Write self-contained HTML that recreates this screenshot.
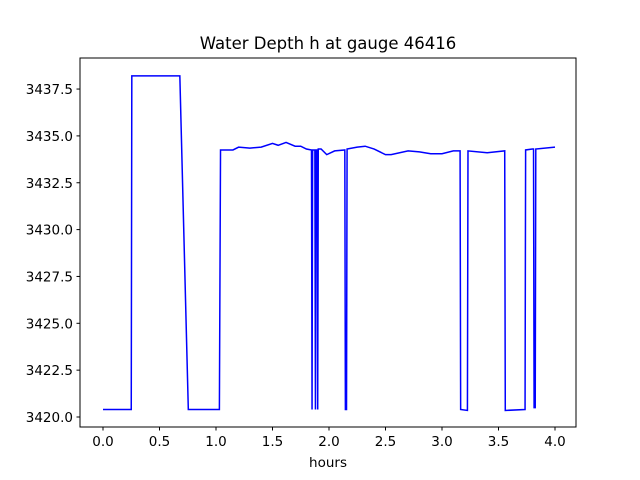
<!DOCTYPE html>
<html><head><meta charset="utf-8"><style>body{margin:0;background:#fff}svg{display:block;font-family:"DejaVu Sans","Liberation Sans",sans-serif}</style></head>
<body>
<svg id="c" width="640" height="480"></svg>
<script>
const times=[0,0.25,0.255,0.68,0.755,1.03,1.04,1.15,1.2,1.3,1.4,1.5,1.55,1.62,1.7,1.75,1.8,1.845,1.85,1.855,1.875,1.88,1.885,1.895,1.9,1.905,1.93,1.98,2.05,2.14,2.145,2.155,2.16,2.25,2.32,2.4,2.5,2.55,2.7,2.8,2.9,3.0,3.1,3.16,3.165,3.225,3.23,3.4,3.555,3.56,3.735,3.74,3.8,3.81,3.815,3.825,3.83,4.0];
const depths=[3420.4,3420.4,3438.2,3438.2,3420.4,3420.4,3434.25,3434.25,3434.4,3434.35,3434.4,3434.6,3434.5,3434.65,3434.45,3434.45,3434.3,3434.25,3420.4,3434.25,3434.25,3420.4,3434.25,3434.25,3420.4,3434.3,3434.3,3434.0,3434.2,3434.25,3420.4,3420.4,3434.3,3434.4,3434.45,3434.3,3434.0,3434.0,3434.2,3434.15,3434.05,3434.05,3434.2,3434.2,3420.4,3420.35,3434.2,3434.1,3434.2,3420.35,3420.4,3434.25,3434.3,3434.3,3420.5,3420.5,3434.3,3434.4];
const xTicks=[0,0.5,1,1.5,2,2.5,3,3.5,4];
const yTicks=[3420,3422.5,3425,3427.5,3430,3432.5,3435,3437.5];
const L=80,R=576,T=58,B=427;
const xs=t=>103+(t)*113;
const ys=h=>417-(h-3420)*18.74;
const svg=document.getElementById('c');const NS='http://www.w3.org/2000/svg';
function mk(tag,at,txt){const e=document.createElementNS(NS,tag);for(const k in at)e.setAttribute(k,at[k]);if(txt!==undefined)e.textContent=txt;svg.appendChild(e);return e;}
const line=mk('polyline',{points:times.map((t,i)=>xs(t)+','+ys(depths[i])).join(' '),fill:'none',stroke:'#0000ff','stroke-width':1.5});


const fr=mk('rect',{x:L,y:T,width:R-L,height:B-T,fill:'none',stroke:'#000','stroke-width':1});


xTicks.forEach(v=>{const x=xs(v);mk('line',{x1:x,x2:x,y1:B,y2:B+3.5,stroke:'#000'});
const t=mk('text',{x:x,y:B+19,'font-size':13.5,'text-anchor':'middle'},v.toFixed(1));

});
yTicks.forEach(v=>{const y=ys(v);mk('line',{x1:L-3.5,x2:L,y1:y,y2:y,stroke:'#000'});
const t=mk('text',{x:L-7,y:y+5,'font-size':13.5,'text-anchor':'end'},v.toFixed(1));

});
const ti=mk('text',{x:328,y:49,'font-size':16.5,'text-anchor':'middle'},'Water Depth h at gauge 46416');


const xl=mk('text',{x:328,y:467,'font-size':13.5,'text-anchor':'middle'},'hours');


</script>
</body></html>
